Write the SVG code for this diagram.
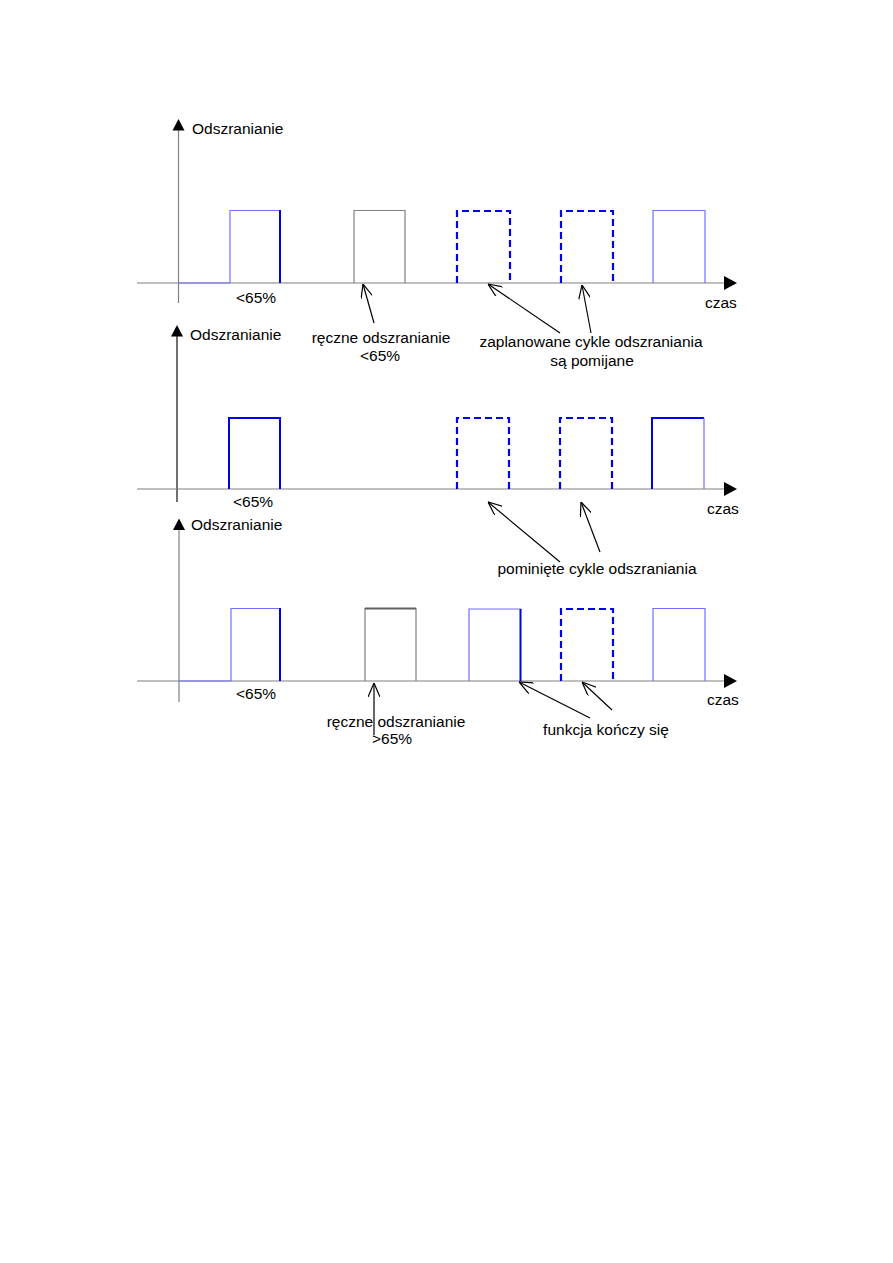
<svg xmlns="http://www.w3.org/2000/svg" width="893" height="1263" viewBox="0 0 893 1263">
<defs>
<marker id="open" viewBox="0 0 14 12" refX="14" refY="6" markerWidth="14" markerHeight="12" markerUnits="userSpaceOnUse" orient="auto">
<path d="M0,0 L14,6 L0,12" fill="none" stroke="#000" stroke-width="1.2"/>
</marker>
</defs>
<style>
text{font-family:"Liberation Sans",Arial,sans-serif;font-size:15.5px;fill:#000}
.ax{stroke:#808080;stroke-width:1.2;fill:none}
.tri{fill:#000}
.lb{stroke:#7070ff;stroke-width:1.2;fill:none}
.db{stroke:#0000ee;stroke-width:2;fill:none}
.gr{stroke:#808080;stroke-width:1.2;fill:none}
.ds{stroke:#0000ee;stroke-width:2.2;fill:none;stroke-dasharray:7,4}
.ar{stroke:#000;stroke-width:1.2;fill:none;marker-end:url(#open)}
</style>
<rect width="893" height="1263" fill="#fff"/>

<!-- Panel 1 -->
<g id="panel1">
<g id="p1-axes">
<line class="ax" x1="178.5" y1="130" x2="178.5" y2="303"/>
<polygon class="tri" points="178.5,119 172.5,130.5 184.5,130.5"/>
<line class="ax" x1="137" y1="283" x2="725" y2="283"/>
<polygon class="tri" points="737,283 724,276 724,290"/>
<text x="192" y="134">Odszranianie</text>
<text x="705" y="308">czas</text>
<text x="236" y="303">&lt;65%</text>
</g>
<g id="p1-pulse1">
<line class="lb" x1="179" y1="283" x2="230" y2="283"/>
<polyline class="lb" points="230,283 230,210.5 280,210.5"/>
<line class="db" x1="280" y1="210" x2="280" y2="283"/>
</g>
<g id="p1-pulse2"><polyline class="gr" points="354,283 354,210.5 405,210.5 405,283"/></g>
<g id="p1-pulse3"><polyline class="ds" points="457,283 457,211 510,211 510,283"/></g>
<g id="p1-pulse4"><polyline class="ds" points="561,283 561,211 613,211 613,283"/></g>
<g id="p1-pulse5"><polyline class="lb" points="653,283 653,210.5 705,210.5 705,283"/></g>
<g id="p1-label1">
<text x="381" y="343" text-anchor="middle">ręczne odszranianie</text>
<text x="380" y="361" text-anchor="middle">&lt;65%</text>
</g>
<g id="p1-label2">
<text x="591" y="347" text-anchor="middle">zaplanowane cykle odszraniania</text>
<text x="592" y="366" text-anchor="middle">są pomijane</text>
</g>
</g>

<!-- Panel 2 -->
<g id="panel2">
<g id="p2-axes">
<line x1="177" y1="336" x2="177" y2="502" stroke="#707070" stroke-width="2"/>
<polygon class="tri" points="177,325 171,336.5 183,336.5"/>
<line class="ax" x1="137" y1="489" x2="725" y2="489"/>
<polygon class="tri" points="737,489 724,482 724,496"/>
<text x="190" y="340">Odszranianie</text>
<text x="707" y="514">czas</text>
<text x="233" y="507">&lt;65%</text>
</g>
<g id="p2-pulse1"><polyline class="db" points="229,489 229,418 280,418 280,489"/></g>
<g id="p2-pulse3"><polyline class="ds" points="457,489 457,418 509,418 509,489"/></g>
<g id="p2-pulse4"><polyline class="ds" points="560,489 560,418 612,418 612,489"/></g>
<g id="p2-pulse5">
<polyline class="db" points="652,489 652,418 704,418"/>
<line class="lb" x1="704" y1="418" x2="704" y2="489"/>
</g>
<g id="p2-label"><text x="597" y="574" text-anchor="middle">pominięte cykle odszraniania</text></g>
</g>

<!-- Panel 3 -->
<g id="panel3">
<g id="p3-axes">
<line class="ax" x1="179" y1="530" x2="179" y2="702"/>
<polygon class="tri" points="179,518.5 173,530 185,530"/>
<line class="ax" x1="137" y1="681" x2="725" y2="681"/>
<polygon class="tri" points="737,681 724,674 724,688"/>
<text x="191" y="530">Odszranianie</text>
<text x="707" y="705">czas</text>
<text x="236" y="699">&lt;65%</text>
</g>
<g id="p3-pulse1">
<line class="lb" x1="179" y1="681" x2="231" y2="681"/>
<polyline class="lb" points="231,681 231,608.5 280,608.5"/>
<line class="db" x1="280" y1="608" x2="280" y2="681"/>
</g>
<g id="p3-pulse2">
<polyline class="gr" points="365,681 365,608.5 416,608.5 416,681"/>
<line x1="365" y1="608.5" x2="416" y2="608.5" stroke="#606060" stroke-width="2"/>
</g>
<g id="p3-pulse3">
<polyline class="lb" points="469,681 469,609 521,609"/>
<line class="db" x1="520.5" y1="609" x2="520.5" y2="681"/>
</g>
<g id="p3-pulse4"><polyline class="ds" points="561,681 561,609 613,609 613,681"/></g>
<g id="p3-pulse5"><polyline class="lb" points="653,681 653,608.5 705,608.5 705,681"/></g>
<g id="p3-label1">
<text x="396" y="727" text-anchor="middle">ręczne odszranianie</text>
<text x="392" y="744" text-anchor="middle">&gt;65%</text>
</g>
<g id="p3-label2"><text x="606" y="735" text-anchor="middle">funkcja kończy się</text></g>
</g>

<!-- Connectors -->
<g id="connectors">
<line class="ar" x1="374" y1="323" x2="363" y2="284"/>
<line class="ar" x1="560" y1="333" x2="488" y2="284"/>
<line class="ar" x1="591" y1="333" x2="582" y2="285"/>
<line class="ar" x1="560" y1="562" x2="488" y2="502"/>
<line class="ar" x1="600" y1="552" x2="581" y2="502"/>
<line class="ar" x1="374" y1="735" x2="374" y2="683"/>
<line class="ar" x1="590" y1="718" x2="519" y2="682"/>
<line class="ar" x1="612" y1="710" x2="582" y2="682"/>
</g>
</svg>
